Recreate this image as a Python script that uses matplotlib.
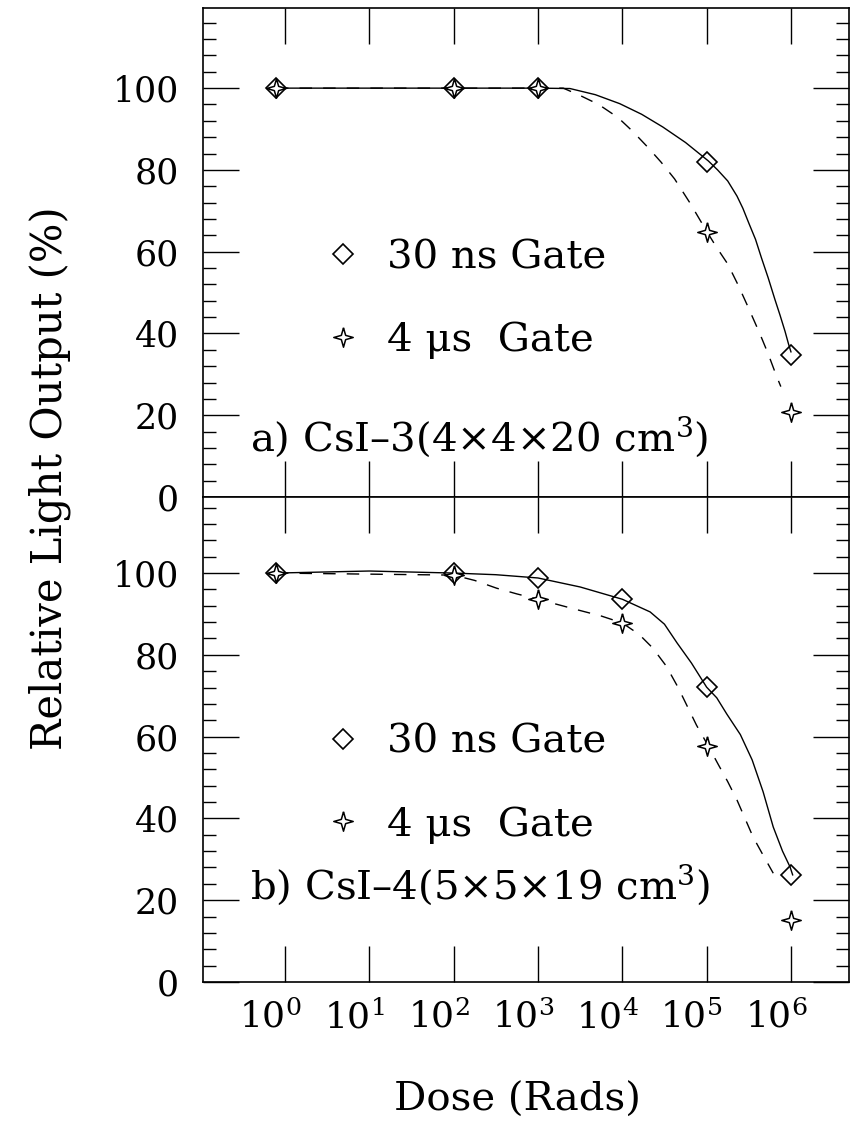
import matplotlib
matplotlib.use("Agg")
import matplotlib.pyplot as plt
import numpy as np
from matplotlib.lines import Line2D
from matplotlib.ticker import FixedLocator, MultipleLocator, NullLocator
from matplotlib.transforms import ScaledTranslation

plt.rcParams['font.family'] = ['DejaVu Serif']
plt.rcParams['mathtext.fontset'] = 'dejavuserif'

# ---------------- data ----------------
dose = [0.78, 1e2, 1e3, 1e5, 1e6]
a_30ns = [100, 100, 100, 82, 34.7]
a_4us = [100, 100, 100, 64.8, 20.8]

dose_b = [0.78, 1e2, 1e3, 1e4, 1e5, 1e6]
b_30ns = [100, 100, 98.8, 93.6, 72.1, 26.2]
b_4us = [100, 99.5, 93.6, 87.8, 57.7, 15.2]

# fitted curves (log10 dose, %)
a_fit30_logx = [-0.107, 3.0, 3.38, 3.68, 3.97, 4.23, 4.48, 4.75, 5.02, 5.13, 5.25, 5.36,
                5.43, 5.5, 5.58, 5.65, 5.73, 5.81, 5.87, 5.93, 5.97, 6.0]
a_fit30_y = [100, 100, 99.9, 98.4, 96.2, 93.6, 90.5, 86.7, 82.2, 80.0, 77.3, 73.6,
             70.6, 67, 63, 58.5, 53.6, 48.3, 44.5, 40.5, 37.5, 35.5]
a_fit4_logx = [-0.107, 3.3, 3.5, 3.72, 3.95, 4.12, 4.3, 4.46, 4.62, 4.8, 5.0, 5.12, 5.25,
               5.37, 5.48, 5.63, 5.73, 5.83, 5.88]
a_fit4_y = [100, 100, 98.2, 96, 92.8, 89.5, 85.6, 81.9, 77.8, 72, 65, 61, 57,
            52, 47, 40, 35, 29.5, 27]

b_fit30_logx = [-0.107, 1.0, 2.0, 2.5, 3.0, 3.5, 4.0, 4.33, 4.5, 4.65, 4.82, 5.0, 5.12,
                5.24, 5.4, 5.54, 5.67, 5.79, 5.9, 5.99, 6.02]
b_fit30_y = [100, 100.5, 100, 99.6, 98.8, 96.6, 93.6, 90.5, 87.5, 82.9, 78, 72.1, 69.5,
             65.5, 60.5, 54.3, 46.5, 37.9, 32, 28.1, 26.2]
b_fit4_logx = [-0.107, 2.0, 2.25, 2.51, 2.75, 3.0, 3.47, 3.75, 4.0, 4.2, 4.36, 4.52, 4.66,
               4.88, 5.02, 5.13, 5.25, 5.36, 5.55, 5.67, 5.79]
b_fit4_y = [100, 99.5, 98.2, 96.3, 94.9, 93.6, 91, 89.5, 87.8, 85, 81.7, 77.3, 72.1,
            62.8, 57.7, 53.5, 49, 44.5, 35.5, 31, 26.6]

xtick_vals = [1e0, 1e1, 1e2, 1e3, 1e4, 1e5, 1e6]
xtick_labels = [r'$10^{0}$', r'$10^{1}$', r'$10^{2}$', r'$10^{3}$', r'$10^{4}$', r'$10^{5}$', r'$10^{6}$']
yticks = [0, 20, 40, 60, 80, 100]

leg_labels = ['30 ns Gate', '4 μs  Gate']
title_a = 'a) CsI–3(4×4×20 cm$^3$)'
title_b = 'b) CsI–4(5×5×19 cm$^3$)'

# ---------------- figure ----------------
fig = plt.figure(figsize=(8.56, 11.39), dpi=100)
ax1 = fig.add_axes([0.2371, 0.56365, 0.7547, 0.42933])
ax2 = fig.add_axes([0.2371, 0.13784, 0.7547, 0.42581])

star = [(0, 1), (0.22, 0.22), (1, 0), (0.22, -0.22), (0, -1), (-0.22, -0.22), (-1, 0), (-0.22, 0.22), (0, 1)]
dia_kw = dict(marker='D', markersize=10, mfc='none', mec='black', mew=1.2, linestyle='none')
star_kw = dict(marker=star, markersize=14, mfc='white', mec='black', mew=1.1, linestyle='none')
dash = (0, (9, 8))

def setup(ax, ymax):
    ax.set_xscale('log')
    ax.set_xlim(10**-0.972, 10**6.688)
    ax.set_ylim(0, ymax)
    ax.xaxis.set_major_locator(FixedLocator(xtick_vals))
    ax.xaxis.set_minor_locator(NullLocator())
    ax.yaxis.set_major_locator(FixedLocator(yticks))
    ax.yaxis.set_minor_locator(MultipleLocator(4))
    ax.tick_params(which='both', direction='in', top=True, bottom=True, left=True, right=True, width=1.0, color='black')
    ax.tick_params(which='major', length=26)
    ax.tick_params(which='minor', length=9.5)
    ax.tick_params(axis='y', labelsize=25, pad=17)
    ax.tick_params(axis='x', labelsize=26, pad=13)
    for s in ax.spines.values():
        s.set_linewidth(1.2)
    ax.set_facecolor('white')

def draw(ax, xs, y30, y4, f30x, f30y, f4x, f4y, title, ty, tpos):
    ax.plot(10**np.array(f30x), f30y, color='black', lw=1.0)
    ax.plot(10**np.array(f4x), f4y, color='black', lw=1.0, linestyle=dash)
    ax.plot(xs, y30, **dia_kw)
    ax.plot(xs, y4, **star_kw)
    handles = [Line2D([], [], **dia_kw), Line2D([], [], **star_kw)]
    ax.legend(handles, leg_labels, loc='upper left', bbox_to_anchor=(0.187, ty),
              frameon=False, fontsize=29, handlelength=0.95, handletextpad=0.62,
              labelspacing=1.12, borderpad=0, borderaxespad=0)
    ax.text(0.073, tpos, title, transform=ax.transAxes,
            ha='left', va='center', fontsize=29)

setup(ax1, 119.6)
setup(ax2, 118.6)
ax1.tick_params(labelbottom=False)

draw(ax1, dose, a_30ns, a_4us, a_fit30_logx, a_fit30_y, a_fit4_logx, a_fit4_y, title_a, 0.527, 0.122)
draw(ax2, dose_b, b_30ns, b_4us, b_fit30_logx, b_fit30_y, b_fit4_logx, b_fit4_y, title_b, 0.532, 0.2)

ax2.set_xticklabels(xtick_labels)
off = ScaledTranslation(-0.15, 0, fig.dpi_scale_trans)
for lab in ax2.get_xticklabels():
    lab.set_transform(lab.get_transform() + off)

fig.text(517 / 856, 1 - 1100 / 1139, 'Dose (Rads)', ha='center', va='center', fontsize=29)
fig.text(50 / 856, 1 - 478 / 1139, 'Relative Light Output (%)', ha='center', va='center',
         rotation=90, fontsize=30)

fig.savefig('out.png', dpi=100, facecolor='white')
